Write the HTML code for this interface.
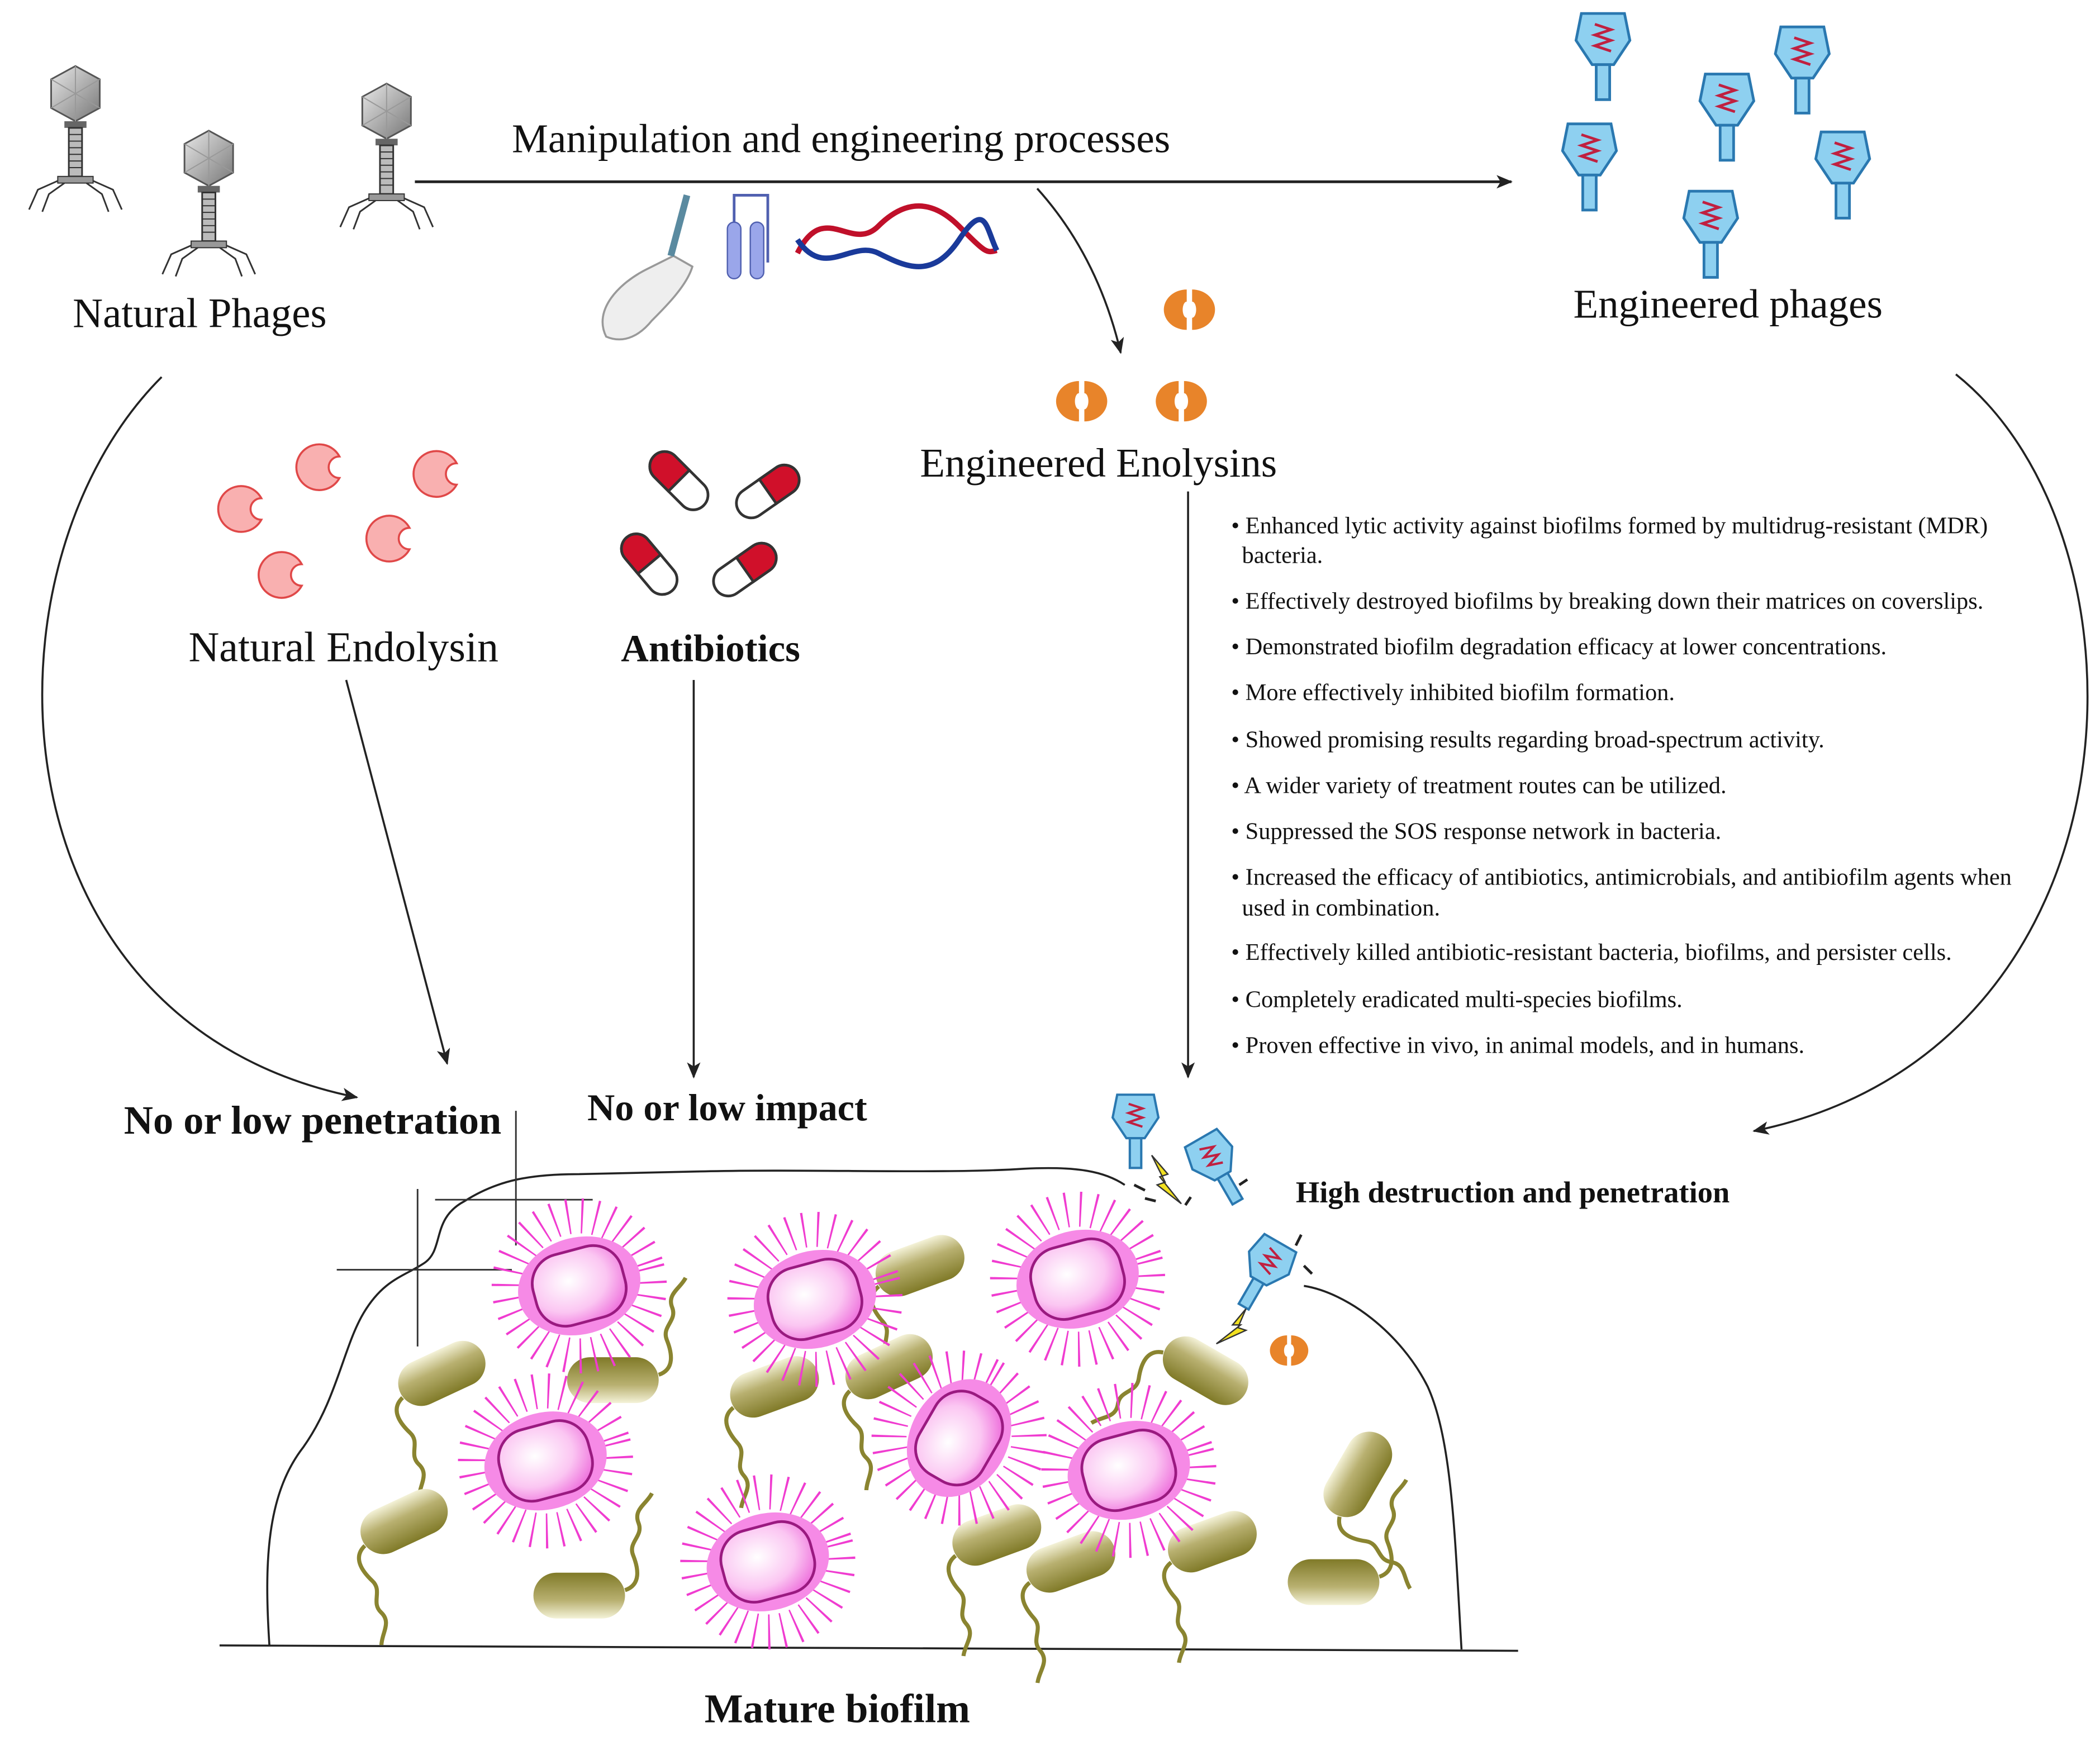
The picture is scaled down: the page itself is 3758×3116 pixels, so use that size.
<!DOCTYPE html>
<html><head><meta charset="utf-8"><style>
html,body{margin:0;padding:0;background:#fff}
svg{display:block}
text{font-family:"Liberation Serif",serif;fill:#111}
</style></head><body>
<svg width="3758" height="3116" viewBox="0 0 1559 1293" preserveAspectRatio="none" xmlns="http://www.w3.org/2000/svg">
<defs>
<marker id="ah" markerWidth="12" markerHeight="10" refX="11" refY="5" orient="auto" markerUnits="userSpaceOnUse"><path d="M0,0 L12,5 L0,10 L3,5 Z" fill="#222"/></marker>
<radialGradient id="pk" cx="0.4" cy="0.4" r="0.7"><stop offset="0" stop-color="#fff"/><stop offset="0.6" stop-color="#fbc6f2"/><stop offset="1" stop-color="#ee70dc"/></radialGradient>
<linearGradient id="ol" x1="0" y1="0" x2="0" y2="1"><stop offset="0" stop-color="#f4f2d8"/><stop offset="0.4" stop-color="#b8b070"/><stop offset="1" stop-color="#807a28"/></linearGradient>
<linearGradient id="gr" x1="0" y1="0" x2="1" y2="1"><stop offset="0" stop-color="#e8e8e8"/><stop offset="1" stop-color="#777"/></linearGradient>
<g id="cell">
 <circle r="52" fill="none" stroke="#f03cd0" stroke-width="26" stroke-dasharray="1.4 9"/>
 <ellipse rx="46" ry="36" fill="#f68ae6"/>
 <rect x="-34" y="-27" width="68" height="54" rx="22" fill="url(#pk)" stroke="#9a1a80" stroke-width="2"/>
</g>
<g id="rod">
 <rect x="-34" y="-17" width="68" height="34" rx="17" fill="url(#ol)"/>
 <path d="M-34,4 c-12,4 -10,16 -6,26 c4,10 -8,14 -4,24 c4,10 -6,14 -10,22" fill="none" stroke="#8a8430" stroke-width="3"/>
</g>
<g id="ephage">
 <path d="M-16,-20 L16,-20 L20,0 L8,18 L-8,18 L-20,0 Z" fill="#8ed0f0" stroke="#2a78b0" stroke-width="2"/>
 <rect x="-5" y="18" width="10" height="26" fill="#8ed0f0" stroke="#2a78b0" stroke-width="2"/>
 <path d="M-6,-12 l12,4 l-12,4 l12,4 l-12,4 l12,4" fill="none" stroke="#c02040" stroke-width="2"/>
</g>
<g id="enz">
 <path d="M-2,-15 a17,15 0 1 0 0,30 l0,-9 a3,6 0 0 1 0,-12 Z" fill="#e8842a"/>
 <path d="M2,-15 a17,15 0 1 1 0,30 l0,-9 a3,6 0 0 0 0,-12 Z" fill="#e8842a"/>
</g>
<g id="pac">
 <path d="M12,-8 A17,17 0 1 0 12,8 A8,8 0 0 1 12,-8 Z" fill="#f9b0b0" stroke="#e04848" stroke-width="1.5"/>
</g>
<g id="pill">
 <rect x="-26" y="-11" width="52" height="22" rx="11" fill="#fff" stroke="#333" stroke-width="2"/>
 <path d="M0,-11 L-15,-11 A11,11 0 0 0 -15,11 L0,11 Z" fill="#d0102a" stroke="#333" stroke-width="2"/>
</g>
<g id="nphage">
 <path d="M0,-28 L22,-16 L22,10 L0,22 L-22,10 L-22,-16 Z" fill="url(#gr)" stroke="#555" stroke-width="1.5"/>
 <path d="M0,-28 L0,22 M-22,-16 L22,10 M22,-16 L-22,10" stroke="#999" stroke-width="1"/>
 <rect x="-10" y="22" width="20" height="6" fill="#666"/>
 <rect x="-6" y="28" width="12" height="44" fill="#bbb" stroke="#333" stroke-width="1.5"/>
 <path d="M-6,34h12M-6,40h12M-6,46h12M-6,52h12M-6,58h12M-6,64h12" stroke="#333"/>
 <rect x="-16" y="72" width="32" height="6" fill="#999" stroke="#333"/>
 <path d="M-16,76 l-18,8 l-8,18 M-10,78 l-14,10 l-6,16 M16,76 l18,8 l8,18 M10,78 l14,10 l6,16" fill="none" stroke="#333" stroke-width="1.5"/>
</g>
</defs>

<use href="#nphage" transform="translate(56,72) scale(0.82)"/>
<use href="#nphage" transform="translate(155,120) scale(0.82)"/>
<use href="#nphage" transform="translate(287,85) scale(0.82)"/>
<text x="54" y="243" font-size="31">Natural Phages</text>

<text x="380" y="113" font-size="30.3">Manipulation and engineering processes</text>
<line x1="308" y1="135" x2="1122" y2="135" stroke="#222" stroke-width="2" marker-end="url(#ah)"/>

<path d="M450,250 c-10,-20 10,-40 30,-50 l20,-10 l14,8 c-4,14 -20,30 -30,40 c-8,10 -20,18 -34,12 z" fill="#eee" stroke="#999" stroke-width="1.5"/>
<line x1="498" y1="190" x2="510" y2="145" stroke="#5a8aa0" stroke-width="5"/>
<rect x="540" y="165" width="10" height="42" rx="5" fill="#9aa6ea" stroke="#5060b0"/>
<rect x="557" y="165" width="10" height="42" rx="5" fill="#9aa6ea" stroke="#5060b0"/>
<path d="M545,165 v-20 h25 v50" fill="none" stroke="#5060b0" stroke-width="2"/>
<path d="M592,188 c20,-40 40,0 60,-20 s40,-20 60,0 s20,20 28,18" fill="none" stroke="#c0102a" stroke-width="4"/>
<path d="M592,178 c20,30 40,0 60,10 s40,20 60,-10 s20,-8 28,8" fill="none" stroke="#1a3a9a" stroke-width="4"/>

<use href="#ephage" x="1190" y="30"/>
<use href="#ephage" x="1338" y="40"/>
<use href="#ephage" x="1282" y="75"/>
<use href="#ephage" x="1180" y="112"/>
<use href="#ephage" x="1368" y="118"/>
<use href="#ephage" x="1270" y="162"/>
<text x="1168" y="236" font-size="30.3">Engineered phages</text>

<path d="M770,140 Q815,190 832,262" fill="none" stroke="#222" stroke-width="1.5" marker-end="url(#ah)"/>
<use href="#enz" x="883" y="230"/>
<use href="#enz" x="803" y="298"/>
<use href="#enz" x="877" y="298"/>
<text x="683" y="354" font-size="30.3">Engineered Enolysins</text>

<use href="#pac" x="240" y="347"/>
<use href="#pac" x="327" y="352"/>
<use href="#pac" x="182" y="378"/>
<use href="#pac" x="292" y="400"/>
<use href="#pac" x="212" y="427"/>
<text x="140" y="491" font-size="31.5">Natural Endolysin</text>

<use href="#pill" transform="translate(504,357) rotate(45)"/>
<use href="#pill" transform="translate(570,365) rotate(-35) scale(-1,1)"/>
<use href="#pill" transform="translate(482,419) rotate(50)"/>
<use href="#pill" transform="translate(553,423) rotate(-35) scale(-1,1)"/>
<text x="461" y="491" font-size="28.5" font-weight="bold">Antibiotics</text>

<path d="M120,280 C-20,420 -10,760 265,815" fill="none" stroke="#222" stroke-width="1.5" marker-end="url(#ah)"/>
<path d="M1452,278 C1605,400 1595,780 1302,840" fill="none" stroke="#222" stroke-width="1.5" marker-end="url(#ah)"/>
<line x1="257" y1="505" x2="332" y2="790" stroke="#222" stroke-width="1.5" marker-end="url(#ah)"/>
<line x1="515" y1="505" x2="515" y2="800" stroke="#222" stroke-width="1.5" marker-end="url(#ah)"/>
<line x1="882" y1="365" x2="882" y2="800" stroke="#222" stroke-width="1.5" marker-end="url(#ah)"/>

<g font-size="17.6">
<text x="914" y="396">• Enhanced lytic activity against biofilms formed by multidrug-resistant (MDR)</text>
<text x="922" y="418">bacteria.</text>
<text x="914" y="452">• Effectively destroyed biofilms by breaking down their matrices on coverslips.</text>
<text x="914" y="486">• Demonstrated biofilm degradation efficacy at lower concentrations.</text>
<text x="914" y="520">• More effectively inhibited biofilm formation.</text>
<text x="914" y="555">• Showed promising results regarding broad-spectrum activity.</text>
<text x="914" y="589">• A wider variety of treatment routes can be utilized.</text>
<text x="914" y="623">• Suppressed the SOS response network in bacteria.</text>
<text x="914" y="657">• Increased the efficacy of antibiotics, antimicrobials, and antibiofilm agents when</text>
<text x="922" y="680">used in combination.</text>
<text x="914" y="713">• Effectively killed antibiotic-resistant bacteria, biofilms, and persister cells.</text>
<text x="914" y="748">• Completely eradicated multi-species biofilms.</text>
<text x="914" y="782">• Proven effective in vivo, in animal models, and in humans.</text>
</g>

<text x="92" y="842" font-size="30" font-weight="bold">No or low penetration</text>
<text x="436" y="832" font-size="28.3" font-weight="bold">No or low impact</text>
<text x="962" y="893" font-size="22.6" font-weight="bold">High destruction and penetration</text>

<path d="M200,1222 C196,1160 198,1110 225,1075 C250,1040 255,1000 270,975 C285,950 300,948 315,938 C330,928 320,905 345,892 C370,876 395,872 430,872 L520,870 C600,868 700,872 760,868 C800,866 820,870 835,880" fill="none" stroke="#222" stroke-width="1.5"/>
<path d="M968,955 C1000,960 1040,990 1060,1030 C1078,1070 1080,1140 1085,1225" fill="none" stroke="#222" stroke-width="1.5"/>
<line x1="163" y1="1222" x2="1127" y2="1226" stroke="#222" stroke-width="1.5"/>
<line x1="310" y1="883" x2="310" y2="1000" stroke="#333" stroke-width="1.2"/>
<line x1="250" y1="943" x2="380" y2="943" stroke="#333" stroke-width="1.2"/>
<line x1="383" y1="825" x2="383" y2="925" stroke="#333" stroke-width="1.2"/>
<line x1="323" y1="891" x2="440" y2="891" stroke="#333" stroke-width="1.2"/>

<use href="#rod" transform="translate(328,1020) rotate(-25)"/>
<use href="#rod" transform="translate(300,1130) rotate(-25)"/>
<use href="#rod" transform="translate(455,1025) rotate(180)"/>
<use href="#rod" transform="translate(430,1185) rotate(180)"/>
<use href="#rod" transform="translate(683,940) rotate(-20)"/>
<use href="#rod" transform="translate(575,1030) rotate(-20)"/>
<use href="#rod" transform="translate(660,1015) rotate(-25)"/>
<use href="#rod" transform="translate(740,1140) rotate(-20)"/>
<use href="#rod" transform="translate(795,1160) rotate(-20)"/>
<use href="#rod" transform="translate(900,1145) rotate(-20)"/>
<use href="#rod" transform="translate(990,1175) rotate(180)"/>
<use href="#rod" transform="translate(1008,1095) rotate(-60)"/>
<use href="#rod" transform="translate(895,1018) rotate(30)"/>
<use href="#cell" transform="translate(430,955) rotate(-15)"/>
<use href="#cell" transform="translate(605,965) rotate(-15)"/>
<use href="#cell" transform="translate(800,950) rotate(-15)"/>
<use href="#cell" transform="translate(405,1085) rotate(-15)"/>
<use href="#cell" transform="translate(712,1068) rotate(-60)"/>
<use href="#cell" transform="translate(838,1092) rotate(-15)"/>
<use href="#cell" transform="translate(570,1160) rotate(-15)"/>

<use href="#ephage" transform="translate(843,830) scale(0.85)"/>
<use href="#ephage" transform="translate(900,860) rotate(-30) scale(0.85)"/>
<use href="#ephage" transform="translate(942,938) rotate(30) scale(0.85)"/>
<use href="#enz" transform="translate(957,1003) scale(0.75)"/>
<path d="M855,858 l12,14 l-6,2 l16,20 l-18,-14 l6,-2 z" fill="#f2e020" stroke="#333" stroke-width="1"/>
<path d="M925,972 l-10,12 l6,0 l-18,14 l22,-10 l-6,-2 z" fill="#f2e020" stroke="#333" stroke-width="1"/>
<path d="M842,880 l8,4 M850,890 l8,2 M880,895 l4,-6 M920,880 l6,-4 M962,925 l4,-8 M968,940 l6,6" stroke="#222" stroke-width="2"/>

<text x="523" y="1279" font-size="30.3" font-weight="bold">Mature biofilm</text>
</svg>
</body></html>
